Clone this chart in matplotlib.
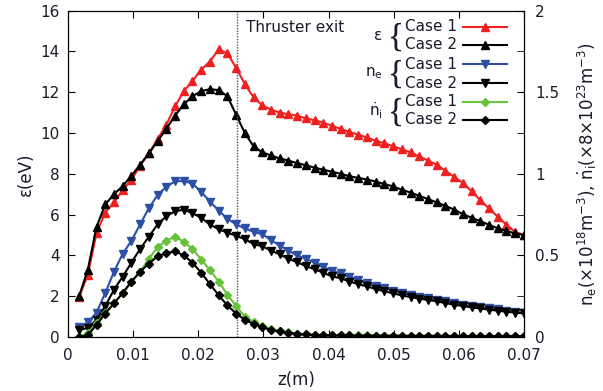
import numpy as np
import matplotlib
matplotlib.use("Agg")
import matplotlib.pyplot as plt
from matplotlib.lines import Line2D

plt.rcParams["font.family"] = ["DejaVu Sans"]
plt.rcParams["mathtext.default"] = "regular"

# axial grid (52 points from 0.0017 m to the thruster end)
z = np.linspace(0.0017, 0.07, 52)

# electron energy (eV), left axis
eps_case1 = [1.95, 3.05, 5.1, 6.1, 6.6, 7.2, 7.7, 8.4, 9.0, 9.7,
             10.4, 11.3, 12.05, 12.55, 13.1, 13.5, 14.1, 13.9, 13.2, 12.4,
             11.75, 11.35, 11.15, 11.0, 10.92, 10.85, 10.72, 10.62, 10.5, 10.35,
             10.2, 10.05, 9.92, 9.78, 9.62, 9.5, 9.35, 9.2, 9.05, 8.85,
             8.65, 8.45, 8.15, 7.85, 7.55, 7.15, 6.7, 6.3, 5.9, 5.5,
             5.15, 5.0]
eps_case2 = [2.0, 3.3, 5.4, 6.5, 7.0, 7.4, 7.9, 8.45, 9.0, 9.6,
             10.2, 10.85, 11.4, 11.8, 12.05, 12.15, 12.1, 11.8, 10.9, 10.0,
             9.35, 9.05, 8.9, 8.75, 8.65, 8.52, 8.42, 8.3, 8.2, 8.1,
             8.0, 7.88, 7.8, 7.72, 7.62, 7.5, 7.38, 7.22, 7.08, 6.92,
             6.76, 6.6, 6.43, 6.25, 6.02, 5.85, 5.68, 5.5, 5.33, 5.2,
             5.08, 5.0]

# electron density (x1e18 m^-3), right axis
ne_case1 = [0.06, 0.09, 0.15, 0.27, 0.40, 0.51, 0.59, 0.69, 0.79, 0.87,
            0.92, 0.954, 0.956, 0.94, 0.89, 0.83, 0.775, 0.725, 0.69, 0.665,
            0.645, 0.63, 0.595, 0.56, 0.53, 0.50, 0.48, 0.455, 0.43, 0.405,
            0.39, 0.37, 0.35, 0.33, 0.31, 0.30, 0.285, 0.27, 0.258, 0.246,
            0.237, 0.227, 0.218, 0.208, 0.198, 0.19, 0.183, 0.176, 0.169, 0.161,
            0.153, 0.145]
ne_case2 = [0.043, 0.056, 0.106, 0.19, 0.29, 0.37, 0.456, 0.54, 0.615, 0.69,
            0.74, 0.77, 0.78, 0.76, 0.73, 0.69, 0.66, 0.64, 0.62, 0.60,
            0.57, 0.556, 0.53, 0.506, 0.48, 0.458, 0.435, 0.415, 0.394, 0.372,
            0.36, 0.34, 0.325, 0.31, 0.295, 0.28, 0.268, 0.255, 0.245, 0.236,
            0.227, 0.219, 0.208, 0.198, 0.19, 0.182, 0.175, 0.168, 0.161, 0.155,
            0.15, 0.145]

# ionization rate (x8e23 m^-3), right axis
ni_case1 = [0.0, 0.025, 0.085, 0.15, 0.206, 0.27, 0.335, 0.40, 0.48, 0.55,
            0.59, 0.615, 0.584, 0.54, 0.475, 0.41, 0.34, 0.26, 0.19, 0.125,
            0.094, 0.069, 0.05, 0.037, 0.028, 0.021, 0.016, 0.014, 0.013, 0.012,
            0.011, 0.011, 0.010, 0.010, 0.009, 0.009, 0.009, 0.008, 0.008, 0.008,
            0.008, 0.007, 0.007, 0.007, 0.007, 0.007, 0.006, 0.006, 0.006, 0.006,
            0.006, 0.006]
ni_case2 = [0.0, 0.012, 0.075, 0.144, 0.206, 0.27, 0.34, 0.40, 0.45, 0.494,
            0.515, 0.525, 0.50, 0.456, 0.394, 0.325, 0.256, 0.194, 0.144, 0.106,
            0.081, 0.06, 0.044, 0.034, 0.025, 0.02, 0.016, 0.013, 0.012, 0.011,
            0.010, 0.010, 0.009, 0.009, 0.009, 0.008, 0.008, 0.008, 0.007, 0.007,
            0.007, 0.007, 0.007, 0.006, 0.006, 0.006, 0.006, 0.006, 0.006, 0.006,
            0.006, 0.006]

z_exit = 0.026

RED = "#ee2020"
BLUE = "#2d4fa6"
GREEN = "#66c23a"
TXT = "#1a1a2a"

fig = plt.figure(figsize=(6.03, 3.91), dpi=100)
ax = fig.add_axes([0.1128, 0.138, 0.756, 0.835])
ax2 = ax.twinx()

lw = 1.5
ax.plot(z, eps_case1, color=RED, lw=lw, marker="^", ms=5.5)
ax.plot(z, eps_case2, color="black", lw=lw, marker="^", ms=5.5)
ax2.plot(z, ne_case1, color=BLUE, lw=lw, marker="v", ms=5.5)
ax2.plot(z, ne_case2, color="black", lw=lw, marker="v", ms=5.5)
ax2.plot(z, ni_case1, color=GREEN, lw=lw, marker="D", ms=3.8)
ax2.plot(z, ni_case2, color="black", lw=lw, marker="D", ms=3.8)

ax.axvline(z_exit, color="#555555", lw=1.0, ls=(0, (1, 1)))
ax.text(0.0274, 15.15, "Thruster exit", fontsize=11, color=TXT, va="center")

ax.set_xlim(0, 0.07)
ax.set_ylim(0, 16)
ax2.set_ylim(0, 2)

xt = [0, 0.01, 0.02, 0.03, 0.04, 0.05, 0.06, 0.07]
ax.set_xticks(xt)
ax.set_xticklabels(["0" if v == 0 else f"{v:.2f}" for v in xt])
ax.set_yticks(range(0, 17, 2))
ax2.set_yticks([0, 0.5, 1, 1.5, 2])
ax2.set_yticklabels(["0", "0.5", "1", "1.5", "2"])
ax2.set_yticks([0.25, 0.75, 1.25, 1.75], minor=True)

ax.tick_params(axis="x", direction="in", length=5, labelsize=11,
               labelcolor=TXT, top=True, pad=8)
ax.tick_params(axis="y", direction="in", length=5, labelsize=11,
               labelcolor=TXT, right=False, pad=6)
ax2.tick_params(axis="y", which="both", direction="in", length=5,
                labelsize=11, labelcolor=TXT, pad=8)

ax.set_xlabel("z(m)", fontsize=12, color=TXT, labelpad=6)
ax.set_ylabel("ε(eV)", fontsize=12, color=TXT)
ax2.set_ylabel(r"n$_e$(×10$^{18}$m$^{-3}$), $\dot{n}_i$(×8×10$^{23}$m$^{-3}$)",
               fontsize=12, color=TXT, labelpad=12)

# gnuplot style legend with braces
rows_y = [0.950, 0.895, 0.836, 0.778, 0.720, 0.665]
styles = [(RED, "^", 5.5), ("black", "^", 5.5), (BLUE, "v", 5.5),
          ("black", "v", 5.5), (GREEN, "D", 3.8), ("black", "D", 3.8)]
for i, (yy, (c, m, s)) in enumerate(zip(rows_y, styles)):
    ax2.text(0.853, yy, f"Case {i % 2 + 1}", transform=ax2.transAxes,
             ha="right", va="center", fontsize=11, color=TXT)
    ax2.add_line(Line2D([0.866, 0.963], [yy, yy], transform=ax2.transAxes,
                        color=c, lw=lw))
    ax2.add_line(Line2D([0.914], [yy], transform=ax2.transAxes, color=c,
                        marker=m, ms=s))
symbols = ["ε", "n$_e$", r"$\dot{n}_i$"]
for j, sym in enumerate(symbols):
    yc = (rows_y[2 * j] + rows_y[2 * j + 1]) / 2
    ax2.text(0.738, yc - 0.004, "{", transform=ax2.transAxes, ha="right",
             va="center", fontsize=24, color=TXT, family="Liberation Serif")
    ax2.text(0.690, yc, sym, transform=ax2.transAxes, ha="right",
             va="center", fontsize=11, color=TXT)

fig.savefig("out.png", dpi=100)
